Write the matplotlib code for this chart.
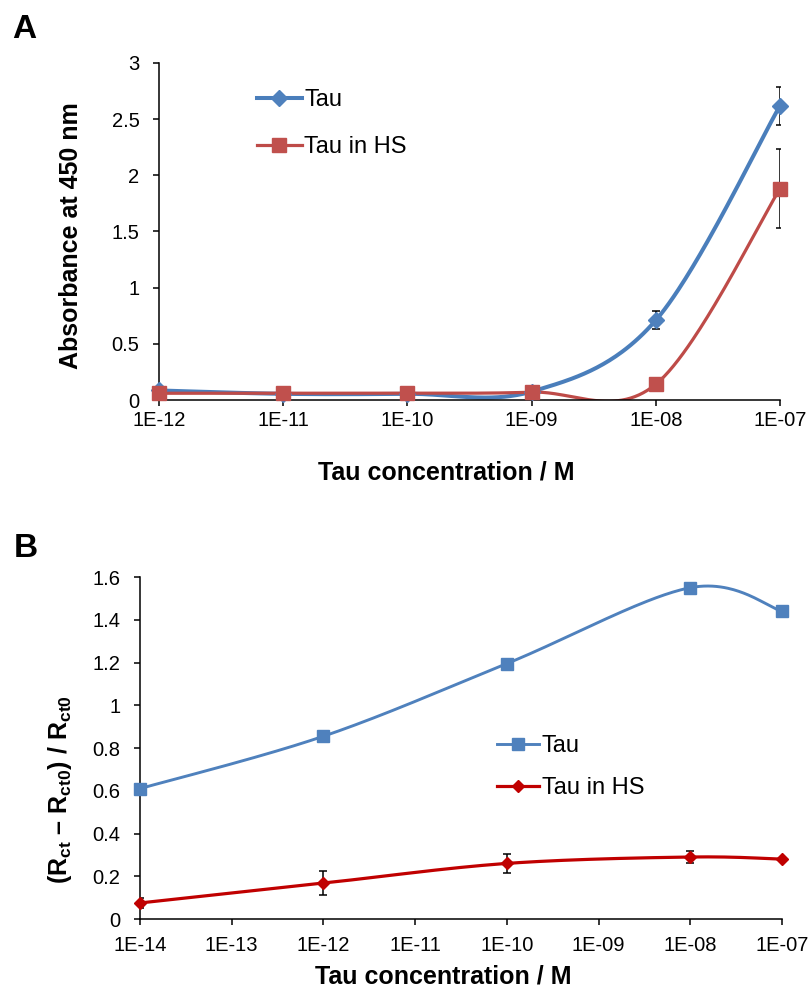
import numpy as np
import matplotlib
matplotlib.use("Agg")
import matplotlib.pyplot as plt
from matplotlib.lines import Line2D
from matplotlib.ticker import FuncFormatter

plt.rcParams['font.family'] = ['Liberation Sans', 'DejaVu Sans']
plt.rcParams['mathtext.fontset'] = 'custom'
plt.rcParams['mathtext.rm'] = 'Liberation Sans'
plt.rcParams['mathtext.bf'] = 'Liberation Sans:bold'
plt.rcParams['mathtext.it'] = 'Liberation Sans:italic'

# panel A data (x = log10 of concentration)
a_logc = [-12, -11, -10, -9, -8, -7]
a_ticklabels = ["1E-12", "1E-11", "1E-10", "1E-09", "1E-08", "1E-07"]
a_tau = [0.085, 0.055, 0.055, 0.075, 0.71, 2.62]
a_tau_err = [0, 0, 0, 0, 0.08, 0.17]
a_hs = [0.06, 0.06, 0.06, 0.07, 0.14, 1.88]
a_hs_err = [0, 0, 0, 0, 0, 0.35]

# panel B data
b_logc = [-14, -12, -10, -8, -7]
b_ticks = [-14, -13, -12, -11, -10, -9, -8, -7]
b_ticklabels = ["1E-14", "1E-13", "1E-12", "1E-11", "1E-10", "1E-09", "1E-08", "1E-07"]
b_tau = [0.61, 0.855, 1.195, 1.55, 1.44]
b_hs = [0.075, 0.168, 0.26, 0.29, 0.28]
b_hs_err = [0.025, 0.055, 0.045, 0.03, 0]


def smooth(x, y, n=60):
    # excel style bezier smoothing
    pts = np.column_stack([np.asarray(x, float), np.asarray(y, float)])
    out = []
    for i in range(len(pts) - 1):
        p0 = pts[i]
        p3 = pts[i + 1]
        prev = pts[i - 1] if i > 0 else pts[i]
        nxt = pts[i + 2] if i + 2 < len(pts) else pts[i + 1]
        p1 = p0 + (p3 - prev) / 6.0
        p2 = p3 - (nxt - p0) / 6.0
        t = np.linspace(0, 1, n)[:, None]
        seg = ((1 - t) ** 3) * p0 + 3 * ((1 - t) ** 2) * t * p1 + 3 * (1 - t) * t ** 2 * p2 + t ** 3 * p3
        out.append(seg if i == 0 else seg[1:])
    out = np.vstack(out)
    return out[:, 0], out[:, 1]


def draw_series(ax, x, y, err, color, mcolor, marker, ms, lw):
    sx, sy = smooth(x, y)
    ax.plot(sx, sy, color=color, lw=lw, zorder=2, solid_capstyle='round')
    x = np.asarray(x, float)
    y = np.asarray(y, float)
    if err is not None:
        err = np.asarray(err, float)
        m = err > 0
        ax.errorbar(x[m], y[m], yerr=err[m], fmt='none', ecolor='black',
                    elinewidth=1.1, capsize=3, capthick=1.1, zorder=3)
    ax.plot(x, y, ls='none', marker=marker, ms=ms, color=mcolor, mec=mcolor,
            zorder=4, clip_on=False)
    return Line2D([], [], color=color, lw=lw, marker=marker, ms=ms, mfc=mcolor, mec=mcolor)


def style_axes(ax, xpad):
    ax.spines['top'].set_visible(False)
    ax.spines['right'].set_visible(False)
    for s in ('left', 'bottom'):
        ax.spines[s].set_linewidth(1.1)
    ax.tick_params(direction='out', length=4, width=1.1, labelsize=14.5)
    ax.tick_params(axis='y', pad=10)
    ax.tick_params(axis='x', pad=xpad)
    ax.yaxis.set_major_formatter(FuncFormatter(lambda v, p: f"{v:g}"))


fig = plt.figure(figsize=(8.12, 9.96), dpi=100)
W, H = 812.0, 996.0

# ---- panel A
axA = fig.add_axes([159 / W, 1 - 400 / H, (780 - 159) / W, (400 - 63) / H])
hA1 = draw_series(axA, a_logc, a_tau, a_tau_err, '#4A7EBB', '#4F81BD', 'D', 8.5, 2.9)
hA2 = draw_series(axA, a_logc, a_hs, a_hs_err, '#BE4B48', '#C0504D', 's', 9.5, 2.3)
axA.set_xlim(-12, -7)
axA.set_ylim(0, 3)
axA.set_xticks(a_logc)
axA.set_xticklabels(a_ticklabels)
axA.set_yticks(np.arange(0, 3.01, 0.5))
style_axes(axA, 4)
axA.legend(handles=[hA1, hA2], labels=['Tau', 'Tau in HS'], loc='upper left',
           bbox_to_anchor=(257 / W, 1 - 89 / H), bbox_transform=fig.transFigure,
           frameon=False, fontsize=17, handlelength=1.9, handletextpad=0.1,
           labelspacing=1.05, borderpad=0, borderaxespad=0)

fig.text(71 / W, 1 - 236 / H, 'Absorbance at 450 nm', rotation=90, fontsize=18,
         fontweight='bold', ha='center', va='center')
fig.text(446 / W, 1 - 472 / H, 'Tau concentration / M', fontsize=18,
         fontweight='bold', ha='center', va='center')
fig.text(12 / W, 1 - 38 / H, 'A', fontsize=24, fontweight='bold', ha='left', va='baseline')

# ---- panel B
axB = fig.add_axes([140 / W, 1 - 919 / H, (782 - 140) / W, (919 - 577) / H])
hB1 = draw_series(axB, b_logc, b_tau, None, '#4F81BD', '#4F81BD', 's', 9.0, 2.1)
hB2 = draw_series(axB, b_logc, b_hs, b_hs_err, '#C00000', '#C00000', 'D', 6.3, 2.3)
axB.set_xlim(-14, -7)
axB.set_ylim(0, 1.6)
axB.set_xticks(b_ticks)
axB.set_xticklabels(b_ticklabels)
axB.set_yticks(np.arange(0, 1.61, 0.2))
style_axes(axB, 8)
axB.legend(handles=[hB1, hB2], labels=['Tau', 'Tau in HS'], loc='upper left',
           bbox_to_anchor=(497 / W, 1 - 735 / H), bbox_transform=fig.transFigure,
           frameon=False, fontsize=17, handlelength=1.8, handletextpad=0.1,
           labelspacing=0.85, borderpad=0, borderaxespad=0)

fig.text(60 / W, 1 - 790 / H, r'$\mathbf{(R_{ct}\ \endash\ R_{ct0})\ /\ R_{ct0}}$',
         rotation=90, fontsize=18, ha='center', va='center')
fig.text(443 / W, 1 - 976 / H, 'Tau concentration / M', fontsize=18,
         fontweight='bold', ha='center', va='center')
fig.text(14 / W, 1 - 557 / H, 'B', fontsize=24, fontweight='bold', ha='left', va='baseline')

fig.savefig('out.png', dpi=100)
